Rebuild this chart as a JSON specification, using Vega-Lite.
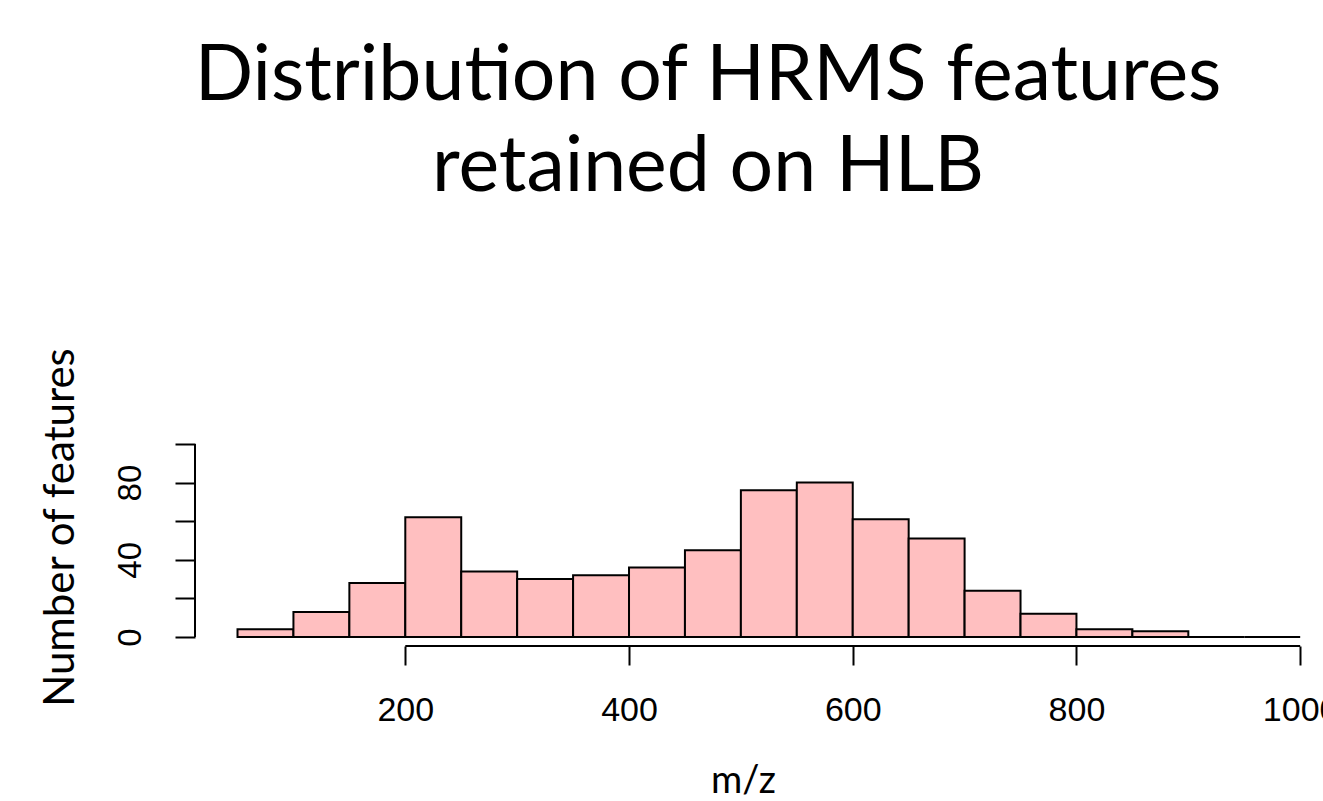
{
  "$schema": "https://vega.github.io/schema/vega-lite/v6.json",
  "autosize": {"type": "none"},
  "padding": {"left": 195, "top": 444, "right": 0, "bottom": 155},
  "width": 1128,
  "height": 202,
  "background": "white",
  "config": {"view": {"stroke": null}},
  "title": {
    "text": ["Distribution of HRMS features", "retained on HLB"],
    "font": "Lato",
    "fontSize": 77,
    "fontWeight": "normal",
    "color": "black",
    "lineHeight": 91,
    "anchor": "middle",
    "frame": "group",
    "dx": -51,
    "baseline": "alphabetic",
    "offset": 79
  },
  "layer": [
    {
      "data": {
        "values": [
          {"bin_start": 50, "bin_end": 100, "count": 4},
          {"bin_start": 100, "bin_end": 150, "count": 13},
          {"bin_start": 150, "bin_end": 200, "count": 28},
          {"bin_start": 200, "bin_end": 250, "count": 62},
          {"bin_start": 250, "bin_end": 300, "count": 34},
          {"bin_start": 300, "bin_end": 350, "count": 30},
          {"bin_start": 350, "bin_end": 400, "count": 32},
          {"bin_start": 400, "bin_end": 450, "count": 36},
          {"bin_start": 450, "bin_end": 500, "count": 45},
          {"bin_start": 500, "bin_end": 550, "count": 76},
          {"bin_start": 550, "bin_end": 600, "count": 80},
          {"bin_start": 600, "bin_end": 650, "count": 61},
          {"bin_start": 650, "bin_end": 700, "count": 51},
          {"bin_start": 700, "bin_end": 750, "count": 24},
          {"bin_start": 750, "bin_end": 800, "count": 12},
          {"bin_start": 800, "bin_end": 850, "count": 4},
          {"bin_start": 850, "bin_end": 900, "count": 3},
          {"bin_start": 900, "bin_end": 950, "count": 0},
          {"bin_start": 950, "bin_end": 1000, "count": 0}
        ]
      },
      "mark": {"type": "bar", "fill": "#FFBFC0", "stroke": "black", "strokeWidth": 2},
      "encoding": {
        "x": {
          "field": "bin_start",
          "type": "quantitative",
          "scale": {"domain": [12, 1020.4], "nice": false, "zero": false},
          "axis": {
            "values": [200, 400, 600, 800, 1000],
            "format": "d",
            "domain": false,
            "grid": false,
            "ticks": true,
            "tickSize": 19,
            "tickWidth": 2,
            "tickColor": "black",
            "labelFont": "Liberation Sans",
            "labelFontSize": 34,
            "labelColor": "black",
            "labelBaseline": "alphabetic",
            "labelPadding": 55,
            "labelFlush": false,
            "labelOverlap": false,
            "title": "m/z",
            "titleFont": "Lato",
            "titleFontSize": 38,
            "titleFontWeight": "normal",
            "titleColor": "black",
            "titleX": 548,
            "titleY": 146,
            "titleAlign": "center",
            "titleBaseline": "alphabetic"
          }
        },
        "x2": {"field": "bin_end"},
        "y": {
          "field": "count",
          "type": "quantitative",
          "scale": {"domain": [-4.66, 100], "nice": false, "zero": false},
          "axis": {
            "values": [0, 20, 40, 60, 80, 100],
            "domain": false,
            "grid": false,
            "tickSize": 20,
            "tickWidth": 2,
            "tickColor": "black",
            "labelFont": "Liberation Sans",
            "labelFontSize": 33,
            "labelColor": "black",
            "labelAngle": -90,
            "labelAlign": "center",
            "labelBaseline": "alphabetic",
            "labelPadding": 35,
            "labelFlush": false,
            "labelOverlap": false,
            "labelExpr": "datum.value % 40 === 0 ? datum.label : ''",
            "title": "Number of features",
            "titleFont": "Lato",
            "titleFontSize": 42,
            "titleFontWeight": "normal",
            "titleColor": "black",
            "titleAngle": -90,
            "titleX": -122,
            "titleY": 83,
            "titleAlign": "center",
            "titleBaseline": "alphabetic"
          }
        },
        "y2": {"datum": 0}
      }
    },
    {
      "data": {"values": [{}]},
      "mark": {"type": "rule", "color": "black", "strokeWidth": 2},
      "encoding": {
        "x": {"datum": 200, "type": "quantitative"},
        "x2": {"datum": 1000},
        "y": {"datum": -4.66, "type": "quantitative"}
      }
    },
    {
      "data": {"values": [{}]},
      "mark": {"type": "rule", "color": "black", "strokeWidth": 2},
      "encoding": {
        "x": {"datum": 12, "type": "quantitative"},
        "y": {"datum": 0, "type": "quantitative"},
        "y2": {"datum": 100}
      }
    }
  ]
}
